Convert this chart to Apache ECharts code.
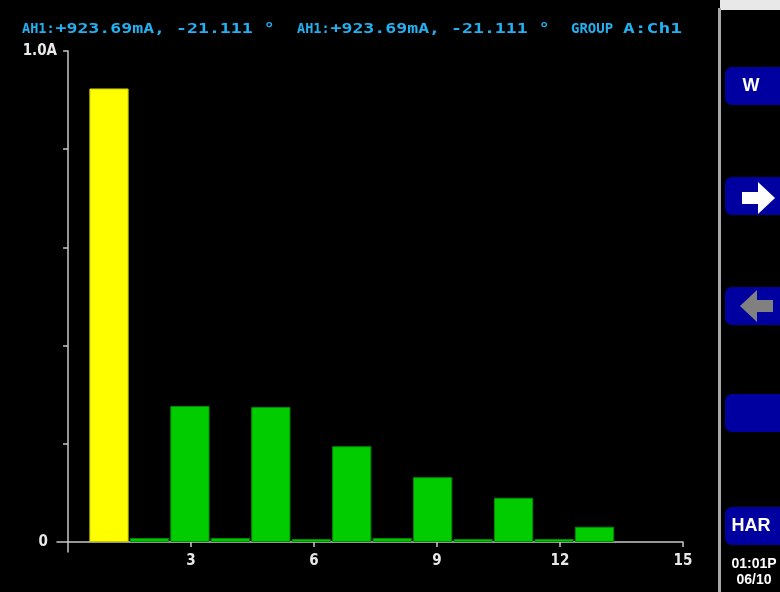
<!DOCTYPE html>
<html><head><meta charset="utf-8">
<script src="https://cdn.jsdelivr.net/npm/echarts@6/dist/echarts.min.js"></script>
<style>html,body{margin:0;padding:0;background:#000;}#c{width:780px;height:592px;}</style>
</head><body><div id="c"></div>
<script>
// Harmonic orders and magnitudes (A)
const harmonics = [1, 2, 3, 4, 5, 6, 7, 8, 9, 10, 11, 12, 13];
const magnitudes = [0.9237, 0.008, 0.277, 0.008, 0.275, 0.006, 0.195, 0.008, 0.132, 0.006, 0.090, 0.006, 0.031];
const xTickValues = [3, 6, 9, 12, 15];
const yTickValues = [0.2, 0.4, 0.6, 0.8, 1.0];
const yLabelValues = [0, 1.0];
const readoutPrefix = 'AH1:';
const readoutValue = '+923.69mA, -21.111 °';
const groupWord = 'GROUP';
const groupChannel = 'A:Ch1';
const buttonLabels = ['W', '', '', '', 'HAR'];
const clockLines = ['01:01P', '06/10'];

const chart = echarts.init(document.getElementById('c'));
const barData = harmonics.map((h, i) => ({
  value: [h, magnitudes[i]],
  itemStyle: i === 0
    ? { color: '#ffff00', borderColor: '#c8c800', borderWidth: 1 }
    : { color: '#00cc00', borderColor: '#008c00', borderWidth: 1 }
}));

const HFONT = 'bold 14px "DejaVu Sans Mono"';
const HCOL = '#22b0f0';
const graphics = [];
function htext(t, x, sx) {
  graphics.push({ type: 'text', x: x, y: 29.5, scaleX: sx,
    style: { text: t, fill: HCOL, font: HFONT, align: 'left', verticalAlign: 'middle' } });
}
[22, 297].forEach(x0 => {
  htext(readoutPrefix, x0, 0.97);
  htext(readoutValue, x0 + 33.5, 1.3);
});
htext(groupWord, 571, 1.0);
htext(groupChannel, 623, 1.4);

// right panel
const btnY = [67, 177, 287, 394, 507];
graphics.push({ type: 'rect', shape: { x: 720, y: 0, width: 60, height: 10 }, style: { fill: '#e8e8e8' } });
graphics.push({ type: 'rect', shape: { x: 718, y: 8, width: 3, height: 584 }, style: { fill: '#a8a8a8' } });
btnY.forEach((y, i) => {
  graphics.push({ type: 'rect', shape: { x: 725, y: y, width: 62, height: 38, r: 7 }, style: { fill: '#0000a0' } });
  if (buttonLabels[i]) graphics.push({
    type: 'text', x: 751, y: y + 19,
    style: { text: buttonLabels[i], fill: '#ffffff', font: 'bold 18px "Liberation Sans"', align: 'center', verticalAlign: 'middle' }
  });
});
graphics.push({ type: 'polygon', shape: { points: [[742,192],[758,192],[758,182],[775,198],[758,214],[758,204],[742,204]] }, style: { fill: '#ffffff' } });
graphics.push({ type: 'polygon', shape: { points: [[773,300],[757,300],[757,290],[740,306],[757,322],[757,312],[773,312]] }, style: { fill: '#808080' } });
clockLines.forEach((t, i) => graphics.push({
  type: 'text', x: 754, y: 564 + i * 16,
  style: { text: t, fill: '#ffffff', font: 'bold 14px "Liberation Sans"', align: 'center', verticalAlign: 'middle' }
}));

const axisCol = '#c8c8c8';
const labelFont = { color: '#e8e8e8', fontSize: 15, fontWeight: 'bold', fontFamily: '"Liberation Sans Narrow", "DejaVu Sans Condensed", "Liberation Sans", sans-serif' };

chart.setOption({
  backgroundColor: '#000000',
  animation: false,
  grid: { left: 57, right: 97, top: 51, bottom: 40 },
  xAxis: [{
    type: 'value', min: -0.27, max: 15,
    axisLine: { onZero: true, lineStyle: { color: axisCol, width: 1.5 } },
    axisTick: { show: true, customValues: xTickValues, length: 5, lineStyle: { color: axisCol, width: 1.5 } },
    axisLabel: Object.assign({ customValues: xTickValues, margin: 2 }, labelFont),
    splitLine: { show: false }
  }, {
    // bar placement scale of the instrument's histogram
    type: 'value', min: -0.285, max: 15.187, show: false,
    splitLine: { show: false }
  }],
  yAxis: {
    type: 'value', min: -0.0204, max: 1.0,
    axisLine: { show: true, onZero: true, lineStyle: { color: axisCol, width: 1.5 } },
    axisTick: { show: true, customValues: yTickValues, length: 5, lineStyle: { color: axisCol, width: 1.5 } },
    axisLabel: Object.assign({
      customValues: yLabelValues, margin: 0,
      formatter: v => v === 0 ? '{z|0}' : v.toFixed(1) + 'A',
      rich: { z: Object.assign({ padding: [0, 9, 0, 0] }, labelFont) }
    }, labelFont),
    splitLine: { show: false }
  },
  series: [{
    type: 'bar', xAxisIndex: 1, data: barData, barWidth: '97%'
  }],
  graphic: graphics
});
</script></body></html>
